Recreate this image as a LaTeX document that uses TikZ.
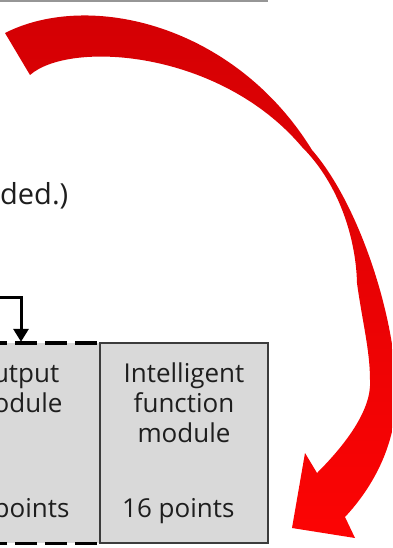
\documentclass[tikz,border=0pt]{standalone}
\usepackage{fontspec}
\setmainfont{Open Sans}
\usetikzlibrary{arrows.meta}
\definecolor{boxfill}{RGB}{217,217,217}
\definecolor{boxline}{RGB}{60,60,60}
\definecolor{txt}{RGB}{30,30,30}
\definecolor{redtop}{RGB}{210,0,4}
\definecolor{redbot}{RGB}{252,4,4}
\definecolor{rulegray}{RGB}{150,150,150}
\tikzset{
  modbox/.style={rectangle, inner sep=0pt, minimum width=168pt, minimum height=200pt, fill=boxfill},
  solidbox/.style={modbox, draw=boxline, line width=2pt},
  dashline/.style={draw=black, line width=3.4pt, dash pattern=on 22pt off 8pt, dash phase=27pt},
  lbl/.style={anchor=base, inner sep=0pt, text=txt, font=\fontsize{26}{30}\selectfont},
  note/.style={anchor=base west, inner sep=0pt, text=txt, font=\fontsize{29}{34}\selectfont},
  flow/.style={draw=black, line width=3pt, -{Triangle[width=15pt,length=13pt]}},
}
\begin{document}
\begin{tikzpicture}[x=1pt,y=-1pt]
\useasboundingbox (0,0) rectangle (392,548);
\clip (0,0) rectangle (392,548);
% top rule
\coordinate (r0) at (0,0.8);
\coordinate (r1) at (268,0.8);
\draw[rulegray, line width=1.6pt] (r0) -- (r1);
% note text
\node[note] (nt) at (0,204) {ded.)};
% output module (dashed, cut off)
\node[modbox] (om) at (16,443) {};
\draw[dashline] (om.north east) -- (om.north west);
\draw[dashline] (om.south east) -- (om.south west);
\node[lbl] (om1) at (16,382) {Output};
\node[lbl] (om2) at (16,412) {module};
\node[lbl, anchor=base west] (om3) at (-43,517) {16 points};
% intelligent function module
\node[solidbox] (ifm) at (184,443) {};
\node[lbl] (i1) at (184,382) {Intelligent};
\node[lbl] (i2) at (184,412) {function};
\node[lbl] (i3) at (184,442) {module};
\node[lbl, anchor=base west] (i4) at (122,517) {16 points};
% black arrow
\coordinate (a0) at (-2,297);
\draw[flow] (a0) -| ([xshift=5pt,yshift=1pt]om.north);
% red curved arrow
\shade[top color=redtop, bottom color=redbot]
  (5,33) -- (30,75)
  .. controls (70,40) and (220,50) .. (302,147)
  .. controls (340,185) and (356,240) .. (357,283)
  .. controls (362,320) and (370,350) .. (370,380)
  .. controls (372,410) and (345,445) .. (317,473)
  -- (305,453) -- (292,528) -- (355,538) -- (345,517)
  .. controls (375,485) and (398,440) .. (396,390)
  .. controls (396,320) and (360,205) .. (312,150)
  .. controls (235,25) and (90,-10) .. (5,33)
  -- cycle;
\end{tikzpicture}
\end{document}
